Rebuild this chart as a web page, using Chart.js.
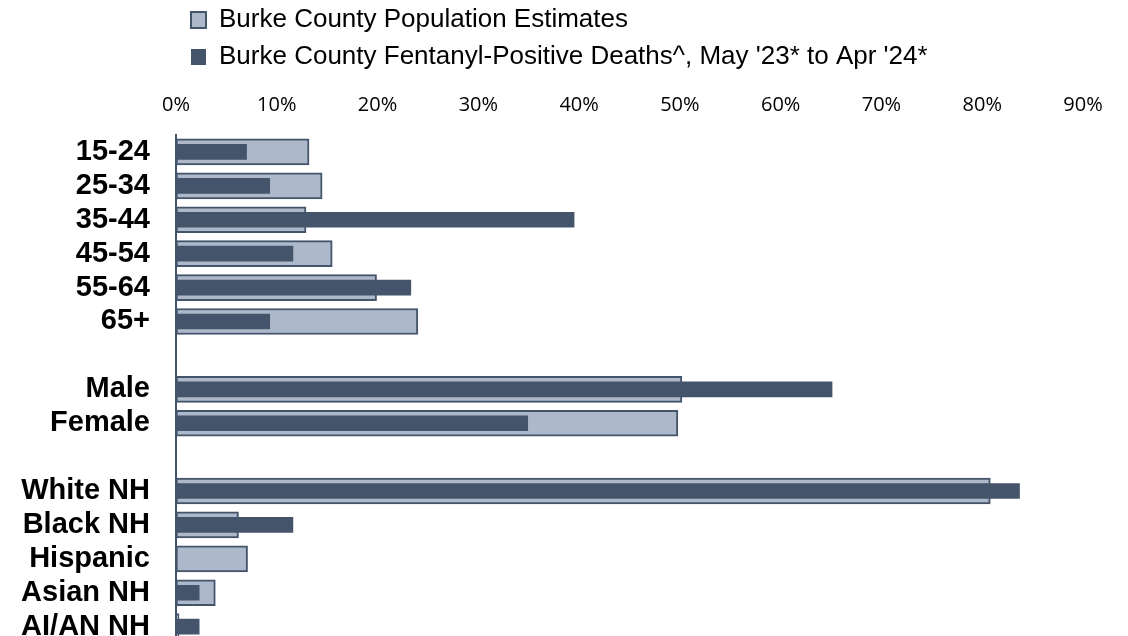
<!DOCTYPE html>
<html>
<head>
<meta charset="utf-8">
<script src="https://cdn.jsdelivr.net/npm/chart.js@4"></script>
<style>
	html, body { margin: 0; padding: 0; background: #fff; overflow: hidden; }
	#wrap { width: 1128px; height: 687px; }
</style>
</head>
<body>
<div id="wrap"><canvas id="fentChart" width="1128" height="687"></canvas></div>
<script>
// Categories (blank entries are the gaps between groups)
const categories = ["15-24", "25-34", "35-44", "45-54", "55-64", "65+", "",
	"Male", "Female", "",
	"White NH", "Black NH", "Hispanic", "Asian NH", "AI/AN NH"];

// Percent of population / percent of deaths
const populationPct = [13.2, 14.5, 12.9, 15.5, 19.9, 24.0, null,
	50.2, 49.8, null,
	80.8, 6.2, 7.1, 3.9, 0.3];
const deathsPct = [7.0, 9.3, 39.5, 11.6, 23.3, 9.3, null,
	65.1, 34.9, null,
	83.7, 11.6, 0, 2.3, 2.3];

const xTicks = [0, 10, 20, 30, 40, 50, 60, 70, 80, 90];

const slate = "#44546a";
const lightBlue = "#adb9ca";

// nudge the legend so it sits where the original one does
const legendNudge = {
	id: "legendNudge",
	afterLayout(chart) {
		const lg = chart.legend;
		if (!lg) return;
		lg.left += 4; lg.right += 4;
		lg.top += 5; lg.bottom += 5;
	}
};

const ctx = document.getElementById("fentChart").getContext("2d");
const chart = new Chart(ctx, {
	type: "bar",
	data: {
		labels: categories,
		datasets: [
			{
				label: "Burke County Population Estimates",
				data: populationPct,
				backgroundColor: lightBlue,
				borderColor: slate,
				borderWidth: 2,
				borderSkipped: false,
				barThickness: 26,
				grouped: false,
				order: 2
			},
			{
				label: "Burke County Fentanyl-Positive Deaths^, May '23* to Apr '24*",
				data: deathsPct,
				backgroundColor: slate,
				borderColor: slate,
				borderWidth: 0,
				barThickness: 15,
				grouped: false,
				order: 1
			}
		]
	},
	options: {
		indexAxis: "y",
		responsive: false,
		animation: false,
		layout: { padding: { left: 20, right: 45, top: -9, bottom: 0 } },
		plugins: {
			tooltip: { enabled: false },
			legend: {
				display: true,
				position: "top",
				align: "start",
				fullSize: false,
				labels: {
					color: "#000",
					font: { family: "'Liberation Sans', Arial, sans-serif", size: 26 },
					boxWidth: 15,
					boxHeight: 16,
					padding: 11,
					sort: (a, b) => a.datasetIndex - b.datasetIndex
				}
			}
		},
		scales: {
			x: {
				position: "top",
				min: 0,
				max: 90,
				afterBuildTicks: (axis) => { axis.ticks = xTicks.map(v => ({ value: v })); },
				grid: { display: false, drawTicks: false },
				border: { display: false },
				ticks: {
					color: "#000",
					padding: 18,
					font: { family: "'Open Sans', sans-serif", size: 20 },
					callback: (v) => v + "%"
				}
			},
			y: {
				afterFit: (axis) => { axis.width = 156; },
				grid: { display: false, drawTicks: false },
				border: { display: true, color: slate, width: 2 },
				ticks: {
					color: "#000",
					padding: 26,
					autoSkip: false,
					font: { family: "'Liberation Sans', Arial, sans-serif", size: 29, weight: "bold" }
				}
			}
		}
	},
	plugins: [legendNudge]
});
</script>
</body>
</html>
